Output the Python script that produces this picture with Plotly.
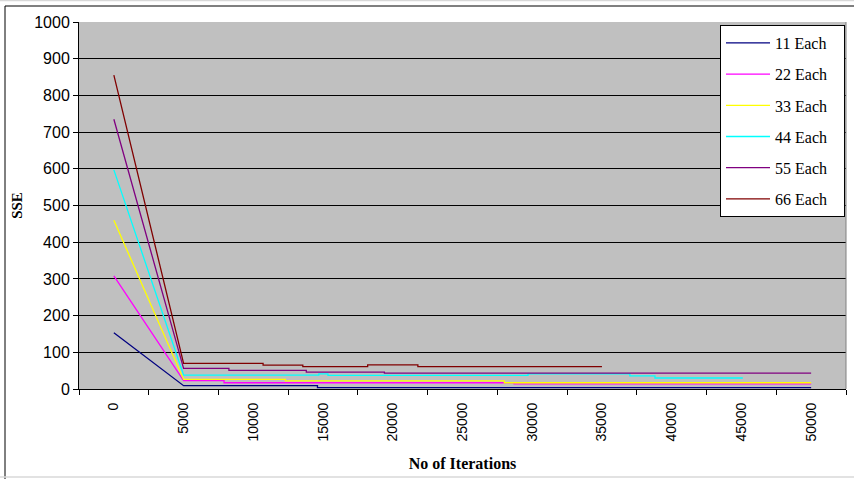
import plotly.graph_objects as go

# ---- data ----
series_names = ["11 Each", "22 Each", "33 Each", "44 Each", "55 Each", "66 Each"]
series_colors = ["#000080", "#FF00FF", "#FFFF00", "#00FFFF", "#800080", "#800000"]

iter_11 = [0, 5000, 14600, 14600, 50000]
sse_11 = [153, 9, 9, 4, 4]

iter_22 = [0, 5000, 7900, 7900, 28700, 28700, 50000]
sse_22 = [308, 23, 23, 17, 17, 14, 14]

iter_33 = [0, 5000, 12300, 12300, 28000, 28000, 50000]
sse_33 = [460, 26, 26, 22, 22, 17, 17]

iter_44 = [0, 5000, 14700, 14700, 15350, 15350, 29700, 29700, 37000, 37000, 38800, 38800, 45100]
sse_44 = [597, 38, 38, 41, 41, 37, 37, 41, 41, 36, 36, 30, 30]

iter_55 = [0, 5000, 8250, 8250, 13800, 13800, 19400, 19400, 50000]
sse_55 = [735, 56, 56, 51, 51, 46, 46, 43, 43]

iter_66 = [0, 5000, 10700, 10700, 13550, 13550, 18200, 18200, 21800, 21800, 35000]
sse_66 = [855, 70, 70, 65, 65, 61, 61, 66, 66, 61, 61]

x_tick_vals = [0, 5000, 10000, 15000, 20000, 25000, 30000, 35000, 40000, 45000, 50000]
x_tick_text = [str(v) for v in x_tick_vals]
y_tick_vals = [0, 100, 200, 300, 400, 500, 600, 700, 800, 900, 1000]

all_x = [iter_11, iter_22, iter_33, iter_44, iter_55, iter_66]
all_y = [sse_11, sse_22, sse_33, sse_44, sse_55, sse_66]

fig = go.Figure()
for i, (name, col, xs, ys) in enumerate(zip(series_names, series_colors, all_x, all_y)):
    fig.add_trace(go.Scatter(
        x=xs, y=ys, mode="lines", name=name + "\u00a0" * 3,
        line=dict(color=col, width=1.3),
        legendgroup=f"g{i}",
    ))

# geometry helpers (pixel -> paper)
L, R, T, B = 79, 846, 22, 389
W, H = 854, 479
def px(x):
    return (x - L) / (R - L)
def py(y):
    return (B - y) / (B - T)

shapes = [
    dict(type="line", xref="paper", yref="paper", x0=1, x1=1, y0=0, y1=1,
         line=dict(color="#808080", width=1)),
    dict(type="line", xref="paper", yref="paper", x0=px(5), x1=px(W), y0=py(6), y1=py(6),
         line=dict(color="#000000", width=1)),
    dict(type="line", xref="paper", yref="paper", x0=px(5), x1=px(5), y0=py(6), y1=py(H),
         line=dict(color="#000000", width=1)),
    dict(type="line", xref="paper", yref="paper", x0=px(0), x1=px(W), y0=py(0.5), y1=py(0.5),
         line=dict(color="#D8D8D8", width=1.5)),
    dict(type="line", xref="paper", yref="paper", x0=px(0), x1=px(W), y0=py(477), y1=py(477),
         line=dict(color="#D8D8D8", width=1.5)),
]

fig.update_layout(
    width=W, height=H,
    margin=dict(l=L, r=W - R, t=T, b=H - B, autoexpand=False),
    paper_bgcolor="#FFFFFF",
    plot_bgcolor="#C0C0C0",
    font=dict(family="Liberation Sans, Arial, sans-serif", color="#000000"),
    showlegend=True,
    legend=dict(
        x=px(720), y=py(25), xanchor="left", yanchor="top",
        bgcolor="#FFFFFF", bordercolor="#000000", borderwidth=1,
        font=dict(family="Liberation Serif, Times New Roman, serif", size=16, color="#000000"),
        traceorder="grouped", tracegroupgap=7.4,
        itemwidth=44,
    ),
    shapes=shapes,
)

fig.update_xaxes(
    range=[-2500, 52500], automargin=False,
    tickmode="array", tickvals=x_tick_vals, ticktext=x_tick_text,
    tickangle=-90, ticks="", ticklabelstandoff=7,
    tickfont=dict(family="Liberation Sans, Arial, sans-serif", size=14, color="#000000"),
    minor=dict(ticks="outside", tick0=-2500, dtick=5000, ticklen=5, tickcolor="#000000", tickwidth=1, showgrid=False),
    showgrid=False, zeroline=False,
    showline=True, linecolor="#000000", linewidth=1,
    title=dict(text="<b>No of Iterations</b>",
               font=dict(family="Liberation Serif, Times New Roman, serif", size=16, color="#000000"),
               standoff=17),
)
fig.update_yaxes(
    range=[0, 1000], automargin=False,
    tickmode="array", tickvals=y_tick_vals,
    ticks="outside", ticklen=5, tickcolor="#000000", tickwidth=1,
    tickfont=dict(family="Liberation Sans, Arial, sans-serif", size=16, color="#000000"),
    showgrid=True, gridcolor="#000000", gridwidth=1,
    zeroline=False,
    showline=True, linecolor="#000000", linewidth=1,
    title=dict(text="<b>SSE</b>",
               font=dict(family="Liberation Serif, Times New Roman, serif", size=15, color="#000000"),
               standoff=7),
)

fig.write_html("out.html", config={"displayModeBar": False},
               post_script="document.body.style.margin='0';document.body.style.overflow='hidden';")
